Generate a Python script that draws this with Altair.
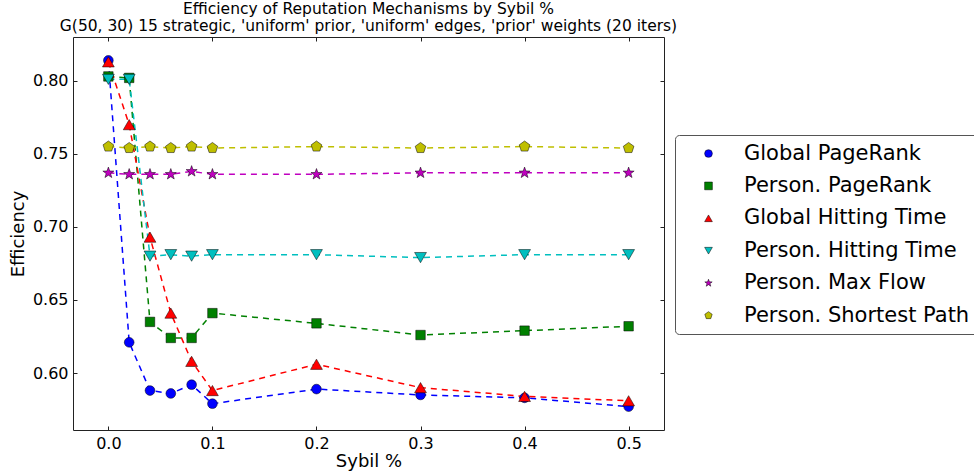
import altair as alt
import pandas as pd

sybil = [0.0, 0.02, 0.04, 0.06, 0.08, 0.1, 0.2, 0.3, 0.4, 0.5]
series_names = ["Global PageRank", "Person. PageRank", "Global Hitting Time",
                "Person. Hitting Time", "Person. Max Flow", "Person. Shortest Path"]
global_pr = [0.814, 0.621, 0.588, 0.586, 0.592, 0.579, 0.589, 0.585, 0.583, 0.577]
person_pr = [0.803, 0.802, 0.635, 0.624, 0.624, 0.641, 0.634, 0.626, 0.629, 0.632]
global_ht = [0.813, 0.770, 0.693, 0.641, 0.608, 0.588, 0.606, 0.590, 0.584, 0.581]
person_ht = [0.801, 0.801, 0.680, 0.681, 0.680, 0.681, 0.681, 0.679, 0.681, 0.681]
max_flow = [0.737, 0.736, 0.736, 0.736, 0.738, 0.736, 0.736, 0.737, 0.737, 0.737]
shortest = [0.755, 0.754, 0.755, 0.754, 0.755, 0.754, 0.755, 0.754, 0.755, 0.754]
x_ticks = [0.0, 0.1, 0.2, 0.3, 0.4, 0.5]
y_ticks = [0.60, 0.65, 0.70, 0.75, 0.80]

colors = ["#0000ff", "#008000", "#ff0000", "#00bfbf", "#bf00bf", "#bfbf00"]
star = ("M0,-1L0.235,-0.324L0.951,-0.309L0.380,0.124L0.588,0.809L0,0.4"
        "L-0.588,0.809L-0.380,0.124L-0.951,-0.309L-0.235,-0.324Z")
pentagon = "M0,-1L0.951,-0.309L0.588,0.809L-0.588,0.809L-0.951,-0.309Z"
shapes = ["circle", "square", "triangle-up", "triangle-down", star, pentagon]
marker_sizes = [95, 90, 140, 140, 135, 125]

all_vals = [global_pr, person_pr, global_ht, person_ht, max_flow, shortest]
rows = []
for i, (name, vals) in enumerate(zip(series_names, all_vals)):
    for xv, yv in zip(sybil, vals):
        rows.append({"sybil": xv, "eff": yv, "series": name, "order": i,
                     "msize": marker_sizes[i]})
df = pd.DataFrame(rows)

FONT = "DejaVu Sans"
xscale = alt.Scale(domain=[-0.034, 0.534], nice=False, zero=False)
yscale = alt.Scale(domain=[0.561, 0.83], nice=False, zero=False)
INWARD = alt.ExprRef("-4")

base = alt.Chart(df)

lines = base.mark_line(strokeDash=[6, 5], strokeWidth=1.5).encode(
    x=alt.X("sybil:Q", scale=xscale,
            axis=alt.Axis(values=x_ticks, format=".1f", title="Sybil %",
                          tickSize=INWARD, labelPadding=9, titlePadding=1, domain=False)),
    y=alt.Y("eff:Q", scale=yscale,
            axis=alt.Axis(values=y_ticks, format=".2f", title="Efficiency",
                          tickSize=INWARD, labelPadding=9, titlePadding=5, domain=False)),
    stroke=alt.Stroke("order:O", scale=alt.Scale(domain=list(range(6)), range=colors),
                      legend=None),
    detail="series:N",
    order="order:Q",
)

legend_def = alt.Legend(title=None, orient="none", legendX=602, legendY=98)
points = base.mark_point(filled=True, opacity=1, stroke="black", strokeWidth=0.5).encode(
    x=alt.X("sybil:Q", scale=xscale, axis=None),
    y=alt.Y("eff:Q", scale=yscale, axis=None),
    color=alt.Color("series:N", scale=alt.Scale(domain=series_names, range=colors),
                    legend=legend_def),
    shape=alt.Shape("series:N", scale=alt.Scale(domain=series_names, range=shapes),
                    legend=legend_def),
    size=alt.Size("msize:Q", scale=None),
    order="order:Q",
)

frame_ticks = base.mark_point(opacity=0).encode(
    x=alt.X("sybil:Q", scale=xscale,
            axis=alt.Axis(orient="top", values=x_ticks, labels=False, title=None,
                          tickSize=INWARD, domain=False)),
    y=alt.Y("eff:Q", scale=yscale,
            axis=alt.Axis(orient="right", values=y_ticks, labels=False, title=None,
                          tickSize=INWARD, domain=False)),
)

chart = alt.layer(lines, points, frame_ticks).resolve_axis(
    x="independent", y="independent"
).properties(
    width=591, height=393,
    title=alt.Title(
        text=["Efficiency of Reputation Mechanisms by Sybil %",
              "G(50, 30) 15 strategic, 'uniform' prior, 'uniform' edges, 'prior' weights (20 iters)"],
        font=FONT, fontSize=15.5, fontWeight="normal", color="black",
        anchor="middle", lineHeight=17, offset=2),
    autosize=alt.AutoSizeParams(type="none"),
    padding={"left": 73, "top": 37, "right": 310, "bottom": 46},
).configure_view(
    stroke="#222222", strokeWidth=1
).configure_axis(
    grid=False, labelFont=FONT, titleFont=FONT, labelFontSize=16, titleFontSize=18,
    labelColor="black", titleColor="black", tickColor="#222222", tickWidth=1,
    titleFontWeight="normal",
).configure_legend(
    labelFont=FONT, labelFontSize=21, labelColor="black", padding=8,
    strokeColor="#555555", cornerRadius=4, fillColor="white",
    symbolSize=60, symbolStrokeColor="black", symbolStrokeWidth=0.5,
    symbolOffset=15, labelOffset=25, rowPadding=10.4, labelLimit=400,
)

chart.save("out.html", embed_options={"renderer": "svg", "actions": False})
